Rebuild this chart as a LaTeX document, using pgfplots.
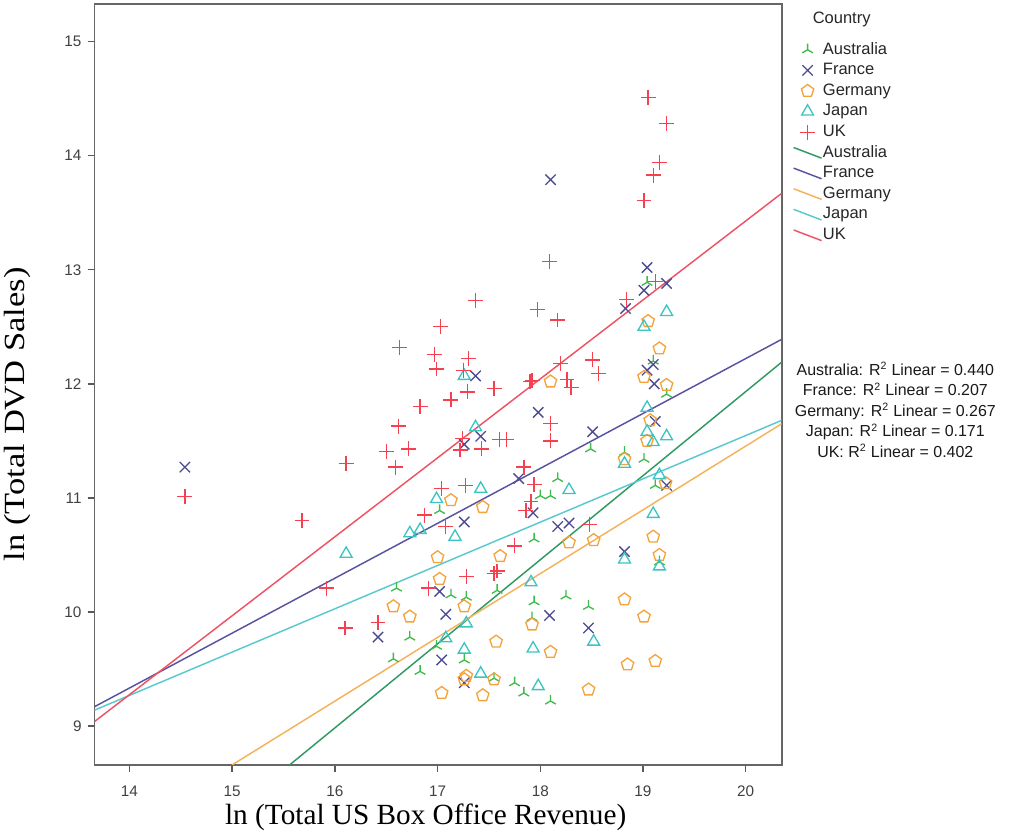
\documentclass[border=0pt]{standalone}
\usepackage{pgfplots}
\pgfplotsset{compat=1.18}
\usetikzlibrary{plotmarks}
\usepackage{fontspec}
\setmainfont{Liberation Sans}
\newfontfamily\seriffont{Liberation Serif}
\definecolor{ausM}{HTML}{3DBB4C}
\definecolor{ausL}{HTML}{2E9A62}
\definecolor{fraM}{HTML}{4D4B91}
\definecolor{fraL}{HTML}{5753A0}
\definecolor{gerM}{HTML}{F4A33C}
\definecolor{gerL}{HTML}{F5B25A}
\definecolor{japM}{HTML}{3EC3C3}
\definecolor{japL}{HTML}{59C9CF}
\definecolor{ukM}{HTML}{F7404F}
\definecolor{ukL}{HTML}{EE5363}
\begin{document}
\begin{tikzpicture}
\begin{axis}[name=ax, scale only axis, width=516.75pt, height=572.25pt,
  xmin=13.66, xmax=20.35, ymin=8.66, ymax=15.33,
  xtick={14,15,16,17,18,19,20}, ytick={9,10,11,12,13,14,15},
  xtick pos=bottom, ytick pos=left, tick align=outside, major tick length=5.25pt,
  tick style={draw=black!65, line width=1pt},
  axis line style={draw=black!60, line width=1.3pt},
  ticklabel style={font=\fontsize{11.5}{13}\selectfont, text=black!75},
  /pgf/number format/assume math mode=true,
  xticklabel style={yshift=-7pt},
  yticklabel style={xshift=-1pt},
  xlabel={\seriffont\fontsize{22}{26}\selectfont ln (Total US Box Office Revenue)},
  ylabel={\scalebox{1.18}[1]{\seriffont\fontsize{22}{26}\selectfont ln (Total DVD Sales)}},
  every axis x label/.style={at={(axis description cs:0.482,-0.0695)}, anchor=center},
  every axis y label/.style={at={(axis description cs:-0.1118,0.461)}, rotate=90, anchor=center},
  clip=true,
  legend cell align=left,
  legend style={at={(axis description cs:1.016,0.9502)}, anchor=north west, draw=none, fill=none,
    inner sep=0pt, row sep=4pt,
    nodes={inner xsep=0.5pt, inner ysep=0pt, text height=9pt, text depth=2.5pt,
      font=\fontsize{12.4}{14}\selectfont, text=black!85}},
  markleg/.style={legend image code/.code={\path[draw=none,fill=none] (0pt,0pt) -- (21pt,0pt); \draw[##1, draw=none] plot coordinates {(10.5pt,0pt)};}},
  lineleg/.style={legend image code/.code={\path[draw=none,fill=none] (0pt,0pt) -- (21pt,0pt); \draw[##1] (0pt,4pt) -- (21pt,-4pt);}},
]
% Australia
\addplot[only marks, markleg, color=ausM, mark=Mercedes star, mark size=4.6pt, mark options={draw=ausM, line width=1pt}] table {
17.02 10.89
16.60 10.21
16.73 9.78
16.57 9.59
16.83 9.48
17.13 10.15
17.28 10.13
17.58 10.19
16.99 9.70
17.26 9.58
17.55 9.42
19.04 12.89
19.10 12.20
19.23 11.91
18.49 11.43
18.82 11.40
19.01 11.34
18.17 11.17
18.00 11.02
18.10 11.02
17.94 10.64
19.12 11.11
19.16 10.44
18.25 10.14
17.94 10.09
18.47 10.05
17.92 9.95
17.75 9.38
17.84 9.29
18.10 9.22
};
\addlegendentry{Australia}
% France
\addplot[only marks, markleg, color=fraM, mark=x, mark size=5.5pt, mark options={draw=fraM, line width=1pt}] table {
14.54 11.27
16.42 9.78
17.37 12.07
17.42 11.54
17.26 11.47
17.26 10.79
17.02 10.18
17.08 9.98
17.04 9.58
17.26 9.38
18.10 13.79
19.04 13.02
19.01 12.82
19.23 12.88
18.83 12.66
19.10 12.17
19.04 12.12
19.11 12.00
17.98 11.75
18.51 11.58
19.12 11.67
17.79 11.17
19.23 11.11
17.93 10.87
18.17 10.75
18.28 10.78
18.82 10.53
18.09 9.97
18.47 9.86
};
\addlegendentry{France}
% Germany
\addplot[only marks, markleg, color=gerM, mark=pentagon, mark size=4.9pt, mark options={draw=gerM, line width=1pt}] table {
16.57 10.05
16.73 9.96
17.13 10.98
17.44 10.92
17.00 10.48
17.61 10.49
17.02 10.29
17.26 10.05
17.57 9.74
17.26 9.41
17.28 9.44
17.55 9.41
17.04 9.29
17.44 9.27
19.05 12.55
19.16 12.31
18.10 12.02
19.01 12.06
19.23 11.99
19.07 11.68
19.04 11.50
18.82 11.34
18.28 10.61
18.52 10.63
19.22 11.13
19.10 10.66
19.16 10.50
18.82 10.11
17.92 9.89
19.01 9.96
18.10 9.65
18.85 9.54
19.12 9.57
18.47 9.32
};
\addlegendentry{Germany}
% Japan
\addplot[only marks, markleg, color=japM, mark=triangle, mark size=5.2pt, mark options={draw=japM, line width=1pt}] table {
16.11 10.51
16.73 10.69
16.83 10.72
17.26 12.07
17.37 11.62
17.42 11.08
16.99 10.99
17.17 10.66
17.28 9.90
17.08 9.77
17.26 9.67
17.42 9.46
19.23 12.63
19.01 12.50
19.04 11.79
19.04 11.58
19.23 11.54
19.10 11.49
18.82 11.30
19.16 11.20
18.28 11.07
19.10 10.86
18.82 10.46
19.16 10.40
17.91 10.26
18.52 9.74
17.93 9.68
17.98 9.35
};
\addlegendentry{Japan}
% UK
\addplot[only marks, markleg, color=ukM, mark=+, mark size=5.6pt, mark options={draw=ukM, line width=1pt}] table {
14.54 11.01
15.68 10.80
16.11 11.30
15.92 10.21
16.10 9.86
16.42 9.91
16.62 11.63
16.50 11.41
16.72 11.43
16.59 11.27
16.83 11.80
16.87 10.85
16.91 10.21
17.37 12.73
17.03 12.50
16.63 12.32
16.97 12.26
17.30 12.22
16.99 12.13
17.25 12.12
17.29 11.93
17.55 11.96
17.13 11.86
17.24 11.52
17.43 11.43
17.60 11.51
17.67 11.51
17.22 11.42
17.04 11.08
17.27 11.11
17.08 10.75
17.28 10.31
17.55 10.34
17.58 10.36
18.09 13.07
17.97 12.65
18.17 12.56
19.12 12.90
18.84 12.74
18.20 12.18
18.51 12.21
18.57 12.09
17.92 12.03
17.90 12.02
18.26 12.04
18.30 11.97
18.10 11.65
18.10 11.50
17.84 11.27
17.94 11.12
17.91 10.97
17.86 10.89
18.48 10.77
17.75 10.58
19.05 14.51
19.23 14.28
19.16 13.94
19.10 13.83
19.01 13.61
};
\addlegendentry{UK}
% fit lines
\addplot[lineleg, draw=ausL, line width=1.1pt] coordinates {(15.56,8.66) (20.35,12.19)};
\addlegendentry{Australia}
\addplot[lineleg, draw=fraL, line width=1.1pt] coordinates {(13.66,9.17) (20.35,12.39)};
\addlegendentry{France}
\addplot[lineleg, draw=gerL, line width=1.1pt] coordinates {(15.00,8.66) (20.35,11.65)};
\addlegendentry{Germany}
\addplot[lineleg, draw=japL, line width=1.1pt] coordinates {(13.66,9.14) (20.35,11.68)};
\addlegendentry{Japan}
\addplot[lineleg, draw=ukL, line width=1.1pt] coordinates {(13.66,9.04) (20.35,13.67)};
\addlegendentry{UK}
\end{axis}
\node[anchor=west, font=\fontsize{12.4}{14}\selectfont, text=black!85, inner sep=0pt] at ([xshift=540pt,yshift=-12pt]ax.north west) {Country};
\node[align=center, font=\fontsize{12}{15.4}\selectfont, text=black!90, inner sep=0pt] at ([xshift=602.25pt,yshift=267pt]ax.south west) {Australia: R\textsuperscript{2} Linear = 0.440\\France: R\textsuperscript{2} Linear = 0.207\\Germany: R\textsuperscript{2} Linear = 0.267\\Japan: R\textsuperscript{2} Linear = 0.171\\UK: R\textsuperscript{2} Linear = 0.402};
\path ([xshift=-69pt,yshift=-47.25pt]ax.south west) rectangle ([xshift=173.25pt,yshift=3pt]ax.north east);
\end{tikzpicture}
\end{document}
